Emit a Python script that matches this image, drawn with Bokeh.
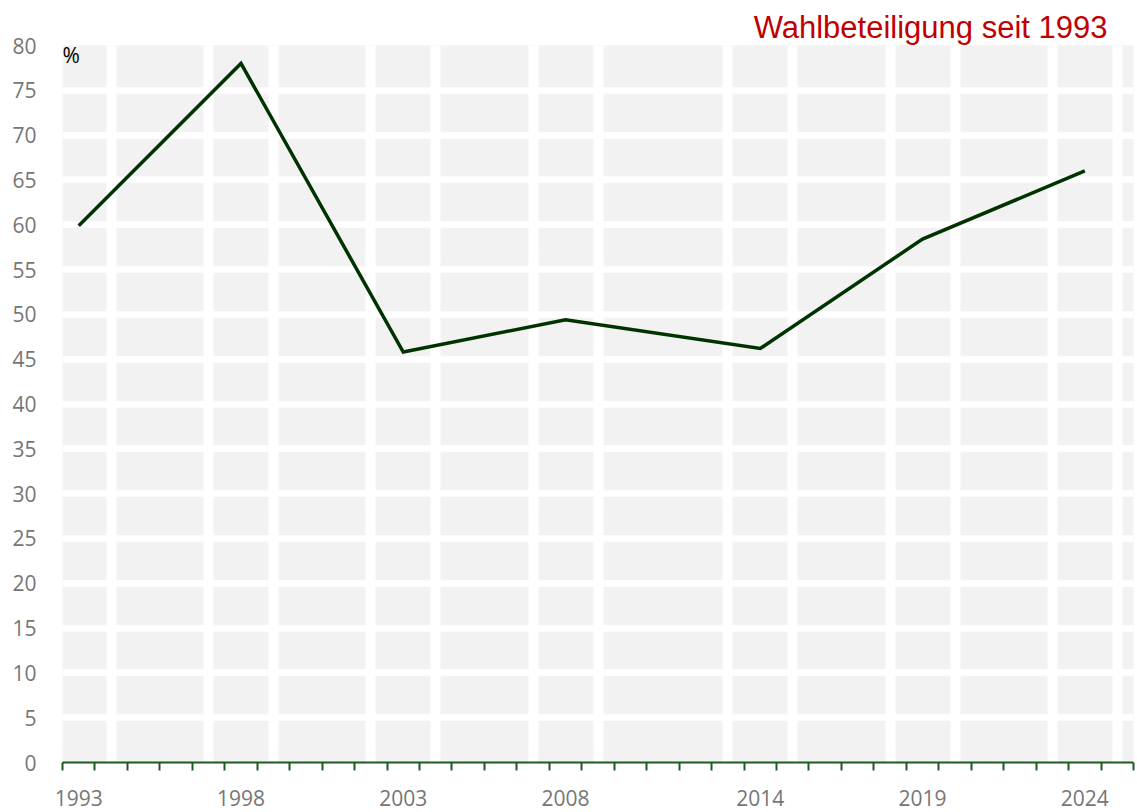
from bokeh.plotting import figure
from bokeh.models import FixedTicker, Label, Range1d, Title
from bokeh.embed import file_html
from bokeh.resources import INLINE

years = [1993, 1998, 2003, 2008, 2014, 2019, 2024]
turnout = [59.9, 78.0, 45.8, 49.4, 46.2, 58.4, 66.0]
y_ticks = list(range(0, 85, 5))
title_text = "Wahlbeteiligung seit 1993"
unit_text = "%"

xs = [y + 0.5 for y in years]

p = figure(width=1137, height=812, output_backend="svg", toolbar_location=None,
           x_range=Range1d(1993, 2026), y_range=Range1d(0, 80),
           min_border_left=62, min_border_right=4, min_border_top=45, min_border_bottom=50)
p.outline_line_color = None
p.background_fill_color = "#f2f2f2"
p.border_fill_color = "white"

p.title = Title(text=title_text, align="right", offset=26, standoff=2,
                text_font="Liberation Sans", text_font_size="31px",
                text_font_style="normal", text_color="#c00000")

# grids
grid_x = sorted(set([x - 1 for x in xs] + [x + 1 for x in xs]))
p.xgrid.ticker = FixedTicker(ticks=[g for g in grid_x if 1993 < g < 2026])
p.ygrid.ticker = FixedTicker(ticks=y_ticks)
p.xgrid.grid_line_color = "white"
p.xgrid.grid_line_width = 10
p.ygrid.grid_line_color = "white"
p.ygrid.grid_line_width = 6.5

p.line(xs, turnout, line_color="#003300", line_width=3.5, line_join="miter")

# x axis
xa = p.xaxis[0]
xa.ticker = FixedTicker(ticks=xs, minor_ticks=list(range(1993, 2027)))
xa.major_label_overrides = {x: str(y) for x, y in zip(xs, years)}
xa.major_tick_out = 0
xa.major_tick_in = 0
xa.minor_tick_out = 8
xa.minor_tick_in = 0
xa.minor_tick_line_color = "#1e5a1e"
xa.minor_tick_line_width = 2
xa.axis_line_color = "#1e5a1e"
xa.axis_line_width = 2
xa.major_label_text_font = "Open Sans"
xa.major_label_text_font_size = "21px"
xa.major_label_text_color = "#767676"
xa.major_label_standoff = 19

# y axis
ya = p.yaxis[0]
ya.ticker = FixedTicker(ticks=y_ticks)
ya.axis_line_color = None
ya.major_tick_line_color = None
ya.minor_tick_line_color = None
ya.major_label_text_font = "Open Sans"
ya.major_label_text_font_size = "21px"
ya.major_label_text_color = "#767676"
ya.major_label_standoff = 20

# unit label, screen units relative to the plot frame (origin bottom-left)
p.add_layout(Label(x=0, y=708, x_units="screen", y_units="screen", text=unit_text,
                   text_font="Open Sans", text_font_size="21px", text_color="black",
                   text_baseline="alphabetic", text_align="left"))

open("out.html", "w").write(file_html(p, INLINE))
